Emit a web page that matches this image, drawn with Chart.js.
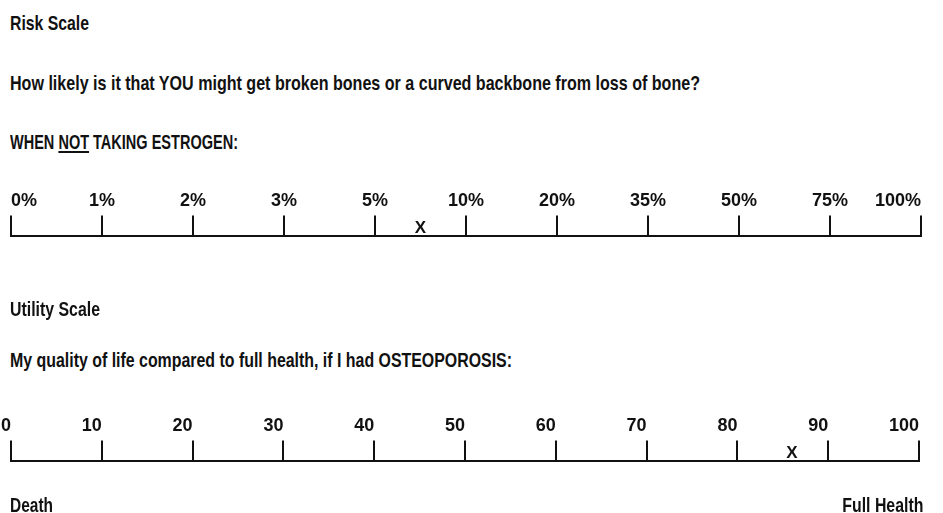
<!DOCTYPE html>
<html>
<head>
<meta charset="utf-8">
<script src="https://cdn.jsdelivr.net/npm/chart.js@4/dist/chart.umd.min.js"></script>
<style>
  html, body { margin: 0; padding: 0; background: #fff; overflow: hidden; }
  body { width: 943px; height: 513px; position: relative; }
  .t {
    position: absolute;
    font-family: "Liberation Sans", Arial, sans-serif;
    font-weight: bold;
    font-size: 21px;
    line-height: 21px;
    color: #111;
    white-space: nowrap;
    transform-origin: 0 0;
  }
  .t.r { transform-origin: 100% 0; }
  .t u { text-decoration-thickness: 2px; text-underline-offset: 2px; }
  .box { position: absolute; left: 0; width: 943px; height: 124px; }
</style>
</head>
<body>
<div class="t" data-w="79" style="left:10px; top:12px">Risk Scale</div>
<div class="t" data-w="690" style="left:10px; top:72px">How likely is it that YOU might get broken bones or a curved backbone from loss of bone?</div>
<div class="t" data-w="228" style="left:10px; top:131px">WHEN <u>NOT</u> TAKING ESTROGEN:</div>
<div class="box" style="top:186px"><canvas id="risk"></canvas></div>

<div class="t" data-w="90" style="left:10px; top:298px">Utility Scale</div>
<div class="t" data-w="502" style="left:10px; top:349px">My quality of life compared to full health, if I had OSTEOPOROSIS:</div>
<div class="box" style="top:411px"><canvas id="utility"></canvas></div>
<div class="t" data-w="43" style="left:10px; top:494px">Death</div>
<div class="t r" data-w="81" style="right:20px; top:494px">Full Health</div>

<script>
  // Risikoskala: Stufen in Prozent, gleichmässig auf der Linie verteilt.
  const riskSteps = [0, 1, 2, 3, 5, 10, 20, 35, 50, 75, 100];
  const riskAnswer = 7.5; // das Kreuz zwischen 5 % und 10 %

  // Nutzenskala: 0 = Tod, 100 = volle Gesundheit.
  const utilitySteps = [0, 10, 20, 30, 40, 50, 60, 70, 80, 90, 100];
  const utilityAnswer = 86;

  const INK = '#111';
  const FONT = '"Liberation Sans", Arial, sans-serif';

  // Schmale Schrift des Originals: Zeilen horizontal auf ihre Breite stauchen.
  document.querySelectorAll('.t').forEach((el) => {
    const w = el.getBoundingClientRect().width;
    el.style.transform = 'scaleX(' + (Number(el.dataset.w) / w) + ')';
  });

  /** Position eines Prozentwerts auf der Stufenskala (Index, zwischen Stufen linear). */
  function stepIndex(value) {
    for (let i = 0; i < riskSteps.length - 1; i++) {
      if (value <= riskSteps[i + 1]) {
        return i + (value - riskSteps[i]) / (riskSteps[i + 1] - riskSteps[i]);
      }
    }
    return riskSteps.length - 1;
  }

  // Zeichnet das "X" über der Linie an der Stelle des Datenpunkts.
  const crossMark = {
    id: 'crossMark',
    afterDatasetsDraw(chart) {
      const ctx = chart.ctx;
      ctx.save();
      ctx.font = 'bold 17px ' + FONT;
      ctx.fillStyle = INK;
      ctx.textAlign = 'center';
      ctx.textBaseline = 'alphabetic';
      chart.getDatasetMeta(0).data.forEach((pt) => {
        ctx.fillText('X', pt.x, pt.y - 3);
      });
      ctx.restore();
    },
  };

  function scaleChart(canvas, xScale, answerX, rightPad) {
    return new Chart(canvas, {
      type: 'scatter',
      data: {
        datasets: [{ data: [{ x: answerX, y: 1 }], pointRadius: 0, clip: false }],
      },
      options: {
        responsive: true,
        maintainAspectRatio: false,
        animation: false,
        events: [],
        layout: { padding: { left: 11, right: rightPad, top: 0, bottom: 0 } },
        plugins: { legend: { display: false }, tooltip: { enabled: false } },
        scales: {
          x: Object.assign({
            type: 'linear',
            position: 'top',
            grid: {
              drawOnChartArea: false,
              drawTicks: true,
              tickLength: 20,
              color: INK,
              lineWidth: 2,
            },
            border: { display: true, color: INK, width: 2 },
            // Linienenden fest wie im Original, nicht nach Beschriftungsbreite.
            afterFit: (scale) => {
              scale.paddingLeft = 0;
              scale.paddingRight = 0;
            },
          }, xScale),
          y: { display: false, min: 0, max: 1 },
        },
      },
      plugins: [crossMark],
    });
  }

  const tickFont = { family: FONT, weight: 'bold', size: 18 };

  scaleChart(document.getElementById('risk'), {
    min: 0,
    max: riskSteps.length - 1,
    ticks: {
      stepSize: 1,
      autoSkip: false,
      maxRotation: 0,
      padding: 4,
      align: 'inner',
      color: INK,
      font: tickFont,
      callback: (v) => riskSteps[v] + '%',
    },
  }, stepIndex(riskAnswer), 22);

  scaleChart(document.getElementById('utility'), {
    min: utilitySteps[0],
    max: utilitySteps[utilitySteps.length - 1],
    ticks: {
      stepSize: 10,
      autoSkip: false,
      maxRotation: 0,
      padding: 4,
      align: 'end',
      color: INK,
      font: tickFont,
      callback: (v) => String(v),
    },
  }, utilityAnswer, 24);
</script>
</body>
</html>
